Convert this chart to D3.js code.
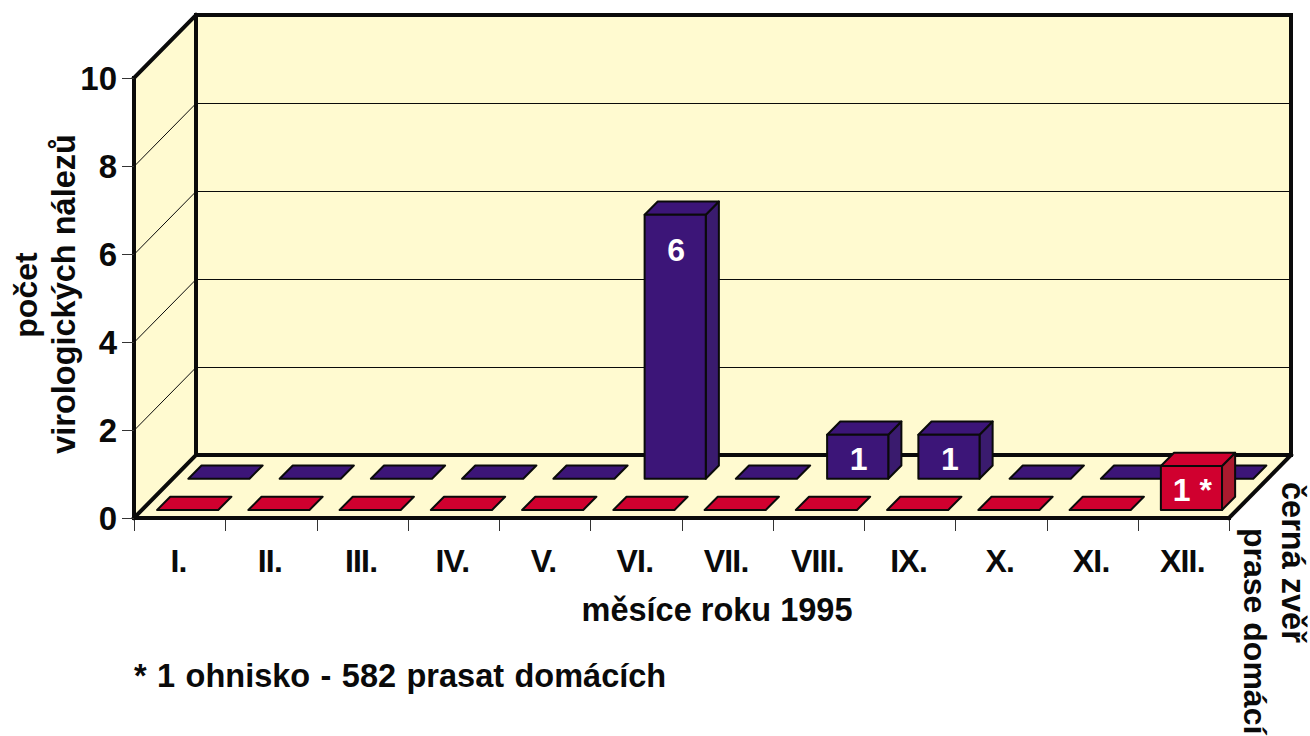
<!DOCTYPE html>
<html><head><meta charset="utf-8">
<script src="https://cdn.jsdelivr.net/npm/d3@7/dist/d3.min.js"></script>
<style>html,body{margin:0;padding:0;background:#fff;overflow:hidden}svg{display:block}text{font-family:"Liberation Sans",Arial,sans-serif;font-weight:700;fill:#0a0a0a}</style>
</head><body><svg id="c" width="1310" height="736"></svg>
<script>
const months = ["I.","II.","III.","IV.","V.","VI.","VII.","VIII.","IX.","X.","XI.","XII."];
const seriesNames = ["prase domácí","černá zvěř"];
const praseValues = [0,0,0,0,0,0,0,0,0,0,0,1];
const cernaValues = [0,0,0,0,0,6,0,1,1,0,0,0];
const barLabels = {"černá zvěř":{"VI.":"6","VIII.":"1","IX.":"1"},"prase domácí":{"XII.":"1 *"}};
const yTicks = [0,2,4,6,8,10];
const yTitle = ["počet","virologických nálezů"];
const xTitle = "měsíce roku 1995";
const footnote = "* 1 ohnisko - 582 prasat domácích";

const colors = {
  "prase domácí":{front:"#D0002F",top:"#D0002F",side:"#AA1A2E"},
  "černá zvěř":{front:"#3C1578",top:"#3C1578",side:"#3A1B6E"}
};
const wall = "#FFFAD0", ink = "#0a0a0a";
const svg = d3.select("#c");
const x = d3.scaleBand().domain(months).range([134,1229]).paddingInner(0.33).paddingOuter(0.165);
const y = d3.scaleLinear().domain([0,10]).range([518,78]);
const z = d3.scaleBand().domain(seriesNames).range([-1,61.5]).paddingInner(0.58).paddingOuter(0.29);
const D = 62, DY = 63;
const P = pts => "M"+pts.map(p=>p.join(",")).join("L")+"Z";

const x0 = x.range()[0], x1 = x.range()[1], yb = y(0), yt = y(10);
svg.append("path").attr("d",P([[x0,yt],[x0+D,yt-DY],[x0+D,yb-DY],[x0,yb]])).attr("fill",wall);
svg.append("path").attr("d",P([[x0+D,yt-DY],[x1+D,yt-DY],[x1+D,yb-DY],[x0+D,yb-DY]])).attr("fill",wall);
svg.append("path").attr("d",P([[x0,yb],[x1,yb],[x1+D,yb-DY],[x0+D,yb-DY]])).attr("fill",wall);

yTicks.filter(t=>t>0&&t<10).forEach(t=>{
  svg.append("path").attr("d",`M${x0},${y(t)+0.5}L${x0+D},${y(t)-DY+0.5}L${x1+D},${y(t)-DY+0.5}`)
    .attr("fill","none").attr("stroke",ink).attr("stroke-width",1);
});

const fr = (a,b,w)=>svg.append("line").attr("x1",a[0]).attr("y1",a[1]).attr("x2",b[0]).attr("y2",b[1]).attr("stroke",ink).attr("stroke-width",w).attr("stroke-linecap","square");
fr([x0+D,yt-DY],[x0+D,yb-DY],4);
fr([x0+D,yt-DY],[x1+D,yt-DY],4);
fr([x1+D,yt-DY],[x1+D,yb-DY],4);
fr([x0+D,yb-DY],[x1+D,yb-DY],4);
fr([x0,yt],[x0+D,yt-DY],4);
fr([x0,yb],[x0+D,yb-DY],4);
fr([x1,yb],[x1+D,yb-DY],4);
fr([x0,yt],[x0,yb],4);
fr([x0,yb],[x1,yb],4);

yTicks.forEach(t=>{
  svg.append("line").attr("x1",x0-12).attr("x2",x0).attr("y1",y(t)+0.5).attr("y2",y(t)+0.5).attr("stroke","#333").attr("stroke-width",1);
  svg.append("text").attr("x",x0-17).attr("y",y(t)+12).attr("text-anchor","end").attr("font-size",33).text(t);
});
d3.range(13).forEach(i=>{
  const tx = Math.round(x0+i*(x1-x0)/12)+0.5;
  svg.append("line").attr("x1",tx).attr("x2",tx).attr("y1",yb+2).attr("y2",yb+13).attr("stroke","#333").attr("stroke-width",1);
});
months.forEach(m=>{
  svg.append("text").attr("x",x(m)+x.bandwidth()/2-1).attr("y",572).attr("text-anchor","middle")
    .attr("font-size",32).attr("letter-spacing",-0.8).text(m);
});

function drawSeries(name, vals){
  const c = colors[name], d0 = z(name), dd = z.bandwidth();
  months.forEach((m,i)=>{
    const v = vals[i], l = x(m), r = l+x.bandwidth();
    const b = y(0)-d0, t = y(v)-d0;
    const g = svg.append("g").attr("stroke",ink).attr("stroke-width",2).attr("stroke-linejoin","round");
    const lx = l+d0, rx = r+d0;
    if(v>0){
      g.append("path").attr("d",P([[rx,b],[rx+dd,b-dd],[rx+dd,t-dd],[rx,t]])).attr("fill",c.side);
      g.append("path").attr("d",P([[lx,t],[rx,t],[rx+dd,t-dd],[lx+dd,t-dd]])).attr("fill",c.top);
      g.append("rect").attr("x",lx).attr("y",t).attr("width",rx-lx).attr("height",b-t).attr("fill",c.front);
      const lab = barLabels[name][m];
      if(lab) svg.append("text").attr("x",(lx+rx)/2+1).attr("y",t+(v>1?46:35)).attr("text-anchor","middle")
        .attr("font-size",32).style("fill","#fff").attr("xml:space","preserve").text(lab);
    } else {
      g.append("path").attr("d",P([[lx,b],[rx,b],[rx+dd,b-dd],[lx+dd,b-dd]])).attr("fill",c.top);
    }
  });
}
drawSeries("černá zvěř", cernaValues);
drawSeries("prase domácí", praseValues);

const vtext=(tx,ty,s,fs,rot,anchor)=>svg.append("text").attr("transform",`translate(${tx},${ty}) rotate(${rot})`)
  .attr("text-anchor",anchor).attr("font-size",fs).text(s);
vtext(37,295,yTitle[0],32,-90,"middle");
vtext(75,294,yTitle[1],32.5,-90,"middle");
svg.append("text").attr("x",717).attr("y",621).attr("text-anchor","middle").attr("font-size",32.5).text(xTitle);
svg.append("text").attr("x",134).attr("y",687).attr("font-size",32.5).attr("word-spacing",1.4).text(footnote);
vtext(1282,482,seriesNames[1],32.5,90,"start");
vtext(1244,528,seriesNames[0],32,90,"start");
</script></body></html>
